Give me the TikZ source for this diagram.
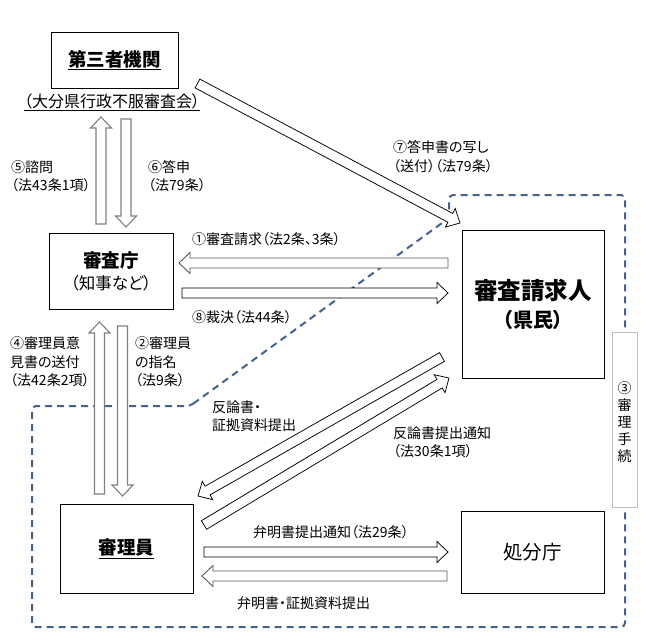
\documentclass[tikz,border=0pt]{standalone}
\usepackage{fontspec}
\setmainfont{Noto Sans CJK JP}[RawFeature=+palt]
\usetikzlibrary{calc}
\definecolor{dashblue}{HTML}{44628F}
\newcommand\barr[3][]{%
  \draw[barrow,#1] ($(#2)!5pt!90:(#3)$) -- ($(#3)!11pt!(#2)!5pt!-90:(#2)$) -- ($(#3)!11pt!(#2)!10.5pt!-90:(#2)$) -- (#3) -- ($(#3)!11pt!(#2)!10.5pt!90:(#2)$) -- ($(#3)!11pt!(#2)!5pt!90:(#2)$) -- ($(#2)!5pt!-90:(#3)$) -- cycle;}
\begin{document}
\begin{tikzpicture}[x=1pt,y=-1pt,
  box/.style={draw=black,line width=0.8pt,fill=white,inner sep=0pt},
  lbl/.style={inner sep=0pt,anchor=west,align=left,font=\fontsize{14}{18.5}\selectfont},
  barrow/.style={draw=black,line width=0.75pt,fill=white,line join=miter},
  garrow/.style={draw=black!50,line width=1.1pt},
  darrow/.style={draw=black!65,line width=0.9pt},
  dashpath/.style={draw=dashblue,line width=2pt,dash pattern=on 7pt off 5pt,rounded corners=4pt}]
\useasboundingbox[fill=white] (0,0) rectangle (645,637);
% dashed procedure area
\draw[dashpath] (190,406) -- (449,218) -- (449,195) -- (625,195) -- (625,627) -- (32,627) -- (32,406) -- cycle;
% boxes
\node[box,minimum width=127pt,minimum height=56pt] (third) at (114.5,60) {\fontsize{18.5}{20}\selectfont\bfseries\underline{第三者機関}};
\node[inner sep=0pt,font=\fontsize{16}{18}\selectfont] (thirdsub) at (112,102) {\underline{（大分県行政不服審査会）}};
\node[box,minimum width=124pt,minimum height=76pt] (shinsa) at (111,271) {};
\node[inner sep=0pt,font=\fontsize{18.5}{20}\selectfont\bfseries] (shinsaT) at (111,260) {審査庁};
\node[inner sep=0pt,font=\fontsize{16.5}{18}\selectfont] (shinsaS) at (111,283) {（知事など）};
\node[box,minimum width=142pt,minimum height=148pt] (req) at (533,304) {};
\node[inner sep=0pt,font=\fontsize{23.5}{26}\selectfont\bfseries] (reqT) at (533,290) {審査請求人};
\node[inner sep=0pt,font=\fontsize{20}{22}\selectfont\bfseries] (reqS) at (533,320) {（県民）};
\node[box,minimum width=133pt,minimum height=89pt] (shinri) at (126.5,548.5) {\fontsize{18.5}{20}\selectfont\bfseries\underline{審理員}};
\node[box,minimum width=143pt,minimum height=82pt] (shobun) at (532.5,552) {\fontsize{19.5}{21}\selectfont 処分庁};
\node[draw=black!25,line width=0.8pt,fill=white,minimum width=25pt,minimum height=175pt,inner sep=0pt] (proc) at (624.5,419.5) {};
\node[inner sep=0pt,align=center,font=\fontsize{14}{17}\selectfont] (procT) at (624.5,422) {③\\審\\理\\手\\続};
% arrow end points
\coordinate (a5s) at (101,224); \coordinate (a5e) at (101,117);
\coordinate (a6s) at (126,119); \coordinate (a6e) at (126,227);
\coordinate (a1s) at (448,263); \coordinate (a1e) at (179,263);
\coordinate (a8s) at (182,293); \coordinate (a8e) at (448,293);
\coordinate (a7s) at (197.5,83.5); \coordinate (a7e) at (460,223);
\coordinate (a2s) at (122.5,326); \coordinate (a2e) at (122.5,496);
\coordinate (a4s) at (99.5,494); \coordinate (a4e) at (99.5,322);
\coordinate (ars) at (442,357); \coordinate (are) at (198,496);
\coordinate (ans) at (204,525); \coordinate (ane) at (449,378);
\coordinate (bns) at (204,552); \coordinate (bne) at (448,552);
\coordinate (bes) at (447,576); \coordinate (bee) at (202,576);
% arrows
\barr[garrow]{a5s}{a5e}
\barr[garrow]{a6s}{a6e}
\barr[darrow]{a1s}{a1e}
\barr{a8s}{a8e}
\barr{a7s}{a7e}
\barr[garrow]{a2s}{a2e}
\barr[garrow]{a4s}{a4e}
\barr{ars}{are}
\barr{ans}{ane}
\barr{bns}{bne}
\barr[darrow]{bes}{bee}
% labels
\node[lbl] (l5) at (11,176) {⑤諮問\\（法43条1項）};
\node[lbl] (l6) at (148,176) {⑥答申\\（法79条）};
\node[lbl] (l1) at (192,239) {①審査請求（法2条、3条）};
\node[lbl] (l8) at (192,317) {⑧裁決（法44条）};
\node[lbl] (l7) at (393,156.5) {⑦答申書の写し\\（送付）（法79条）};
\node[lbl] (l4) at (10,362) {④審理員意\\見書の送付\\（法42条2項）};
\node[lbl] (l2) at (135,362) {②審理員\\の指名\\（法9条）};
\node[lbl] (lr1) at (212,416) {反論書・\\証拠資料提出};
\node[lbl] (lr2) at (393,442.5) {反論書提出通知\\（法30条1項）};
\node[lbl] (lb1) at (253,532) {弁明書提出通知（法29条）};
\node[lbl] (lb2) at (237,603) {弁明書・証拠資料提出};
\end{tikzpicture}
\end{document}
